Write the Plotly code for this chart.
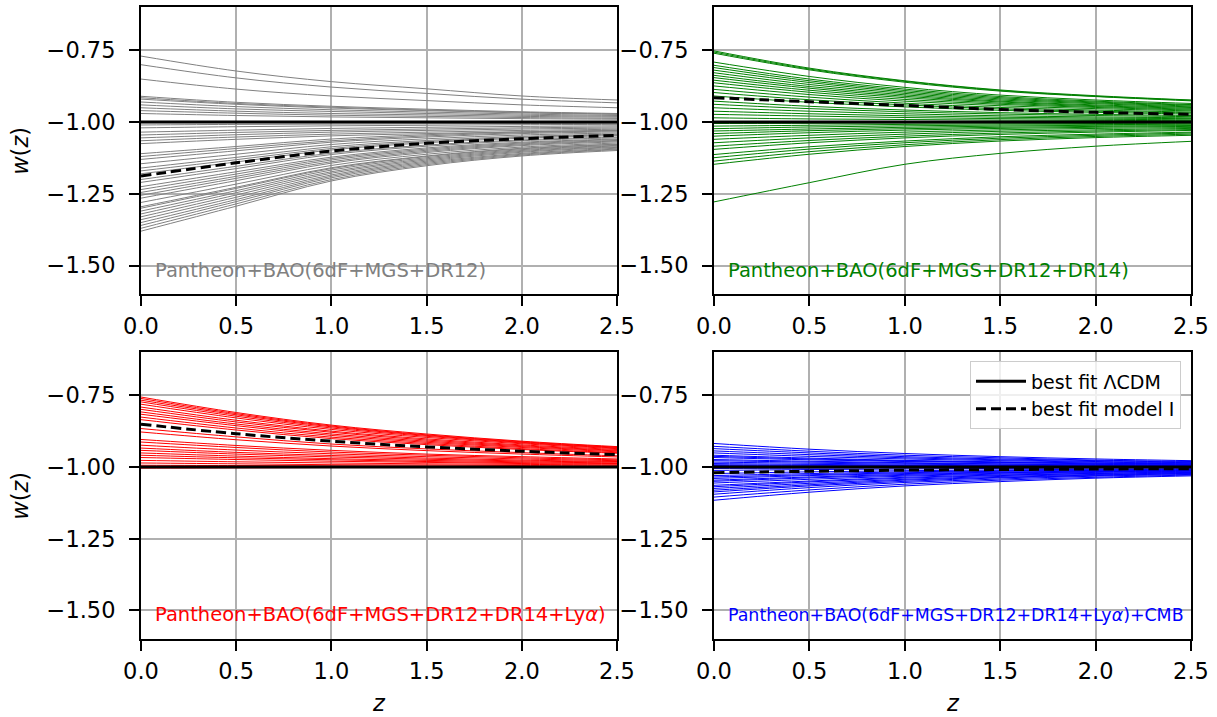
import plotly.graph_objects as go

# ---------------- data ----------------
Z = [0.0, 0.5, 1.0, 1.5, 2.0, 2.5]

LCDM_W = [-1.0, -1.0, -1.0, -1.0, -1.0, -1.0]

# Panel 1: Pantheon+BAO(6dF+MGS+DR12)  (grey)
GREY_CURVES = [
    [-0.770, -0.822, -0.859, -0.884, -0.909, -0.923],
    [-0.800, -0.846, -0.878, -0.900, -0.920, -0.933],
    [-0.850, -0.885, -0.909, -0.925, -0.940, -0.950],
    [-0.910, -0.931, -0.945, -0.955, -0.964, -0.970],
    [-0.915, -0.935, -0.948, -0.958, -0.966, -0.972],
    [-0.920, -0.938, -0.951, -0.960, -0.968, -0.973],
    [-0.930, -0.946, -0.957, -0.965, -0.972, -0.977],
    [-0.940, -0.954, -0.963, -0.970, -0.976, -0.980],
    [-0.950, -0.962, -0.970, -0.975, -0.980, -0.983],
    [-0.960, -0.969, -0.976, -0.980, -0.984, -0.987],
    [-0.970, -0.977, -0.982, -0.985, -0.988, -0.990],
    [-1.010, -1.008, -1.007, -1.006, -1.005, -1.004],
    [-1.020, -1.016, -1.013, -1.011, -1.009, -1.008],
    [-1.035, -1.028, -1.022, -1.018, -1.015, -1.013],
    [-1.045, -1.036, -1.029, -1.024, -1.020, -1.017],
    [-1.055, -1.044, -1.035, -1.029, -1.024, -1.021],
    [-1.065, -1.052, -1.042, -1.035, -1.029, -1.025],
    [-1.075, -1.060, -1.048, -1.040, -1.034, -1.029],
    [-1.110, -1.085, -1.059, -1.044, -1.034, -1.029],
    [-1.120, -1.092, -1.065, -1.048, -1.037, -1.031],
    [-1.130, -1.100, -1.070, -1.052, -1.040, -1.034],
    [-1.145, -1.112, -1.078, -1.058, -1.045, -1.038],
    [-1.160, -1.123, -1.086, -1.064, -1.050, -1.042],
    [-1.170, -1.131, -1.092, -1.068, -1.053, -1.044],
    [-1.180, -1.139, -1.097, -1.072, -1.056, -1.047],
    [-1.200, -1.154, -1.108, -1.080, -1.062, -1.052],
    [-1.210, -1.162, -1.113, -1.084, -1.065, -1.055],
    [-1.225, -1.173, -1.122, -1.090, -1.070, -1.059],
    [-1.235, -1.181, -1.127, -1.094, -1.073, -1.061],
    [-1.245, -1.189, -1.132, -1.098, -1.076, -1.064],
    [-1.255, -1.196, -1.138, -1.102, -1.079, -1.066],
    [-1.265, -1.204, -1.143, -1.106, -1.082, -1.069],
    [-1.280, -1.216, -1.151, -1.112, -1.087, -1.073],
    [-1.295, -1.227, -1.159, -1.118, -1.091, -1.077],
    [-1.300, -1.231, -1.162, -1.120, -1.093, -1.078],
    [-1.310, -1.239, -1.167, -1.124, -1.096, -1.081],
    [-1.320, -1.246, -1.173, -1.128, -1.099, -1.083],
    [-1.330, -1.254, -1.178, -1.132, -1.102, -1.086],
    [-1.340, -1.262, -1.184, -1.136, -1.105, -1.088],
    [-1.350, -1.270, -1.189, -1.140, -1.109, -1.091],
    [-1.360, -1.277, -1.194, -1.144, -1.112, -1.094],
    [-1.370, -1.285, -1.200, -1.148, -1.115, -1.096],
    [-1.380, -1.293, -1.205, -1.152, -1.118, -1.099],
]
GREY_BEST = [-1.188, -1.142, -1.101, -1.074, -1.058, -1.046]

# Panel 2: Pantheon+BAO(6dF+MGS+DR12+DR14)  (green)
GREEN_CURVES = [
    [-0.752, -0.812, -0.856, -0.888, -0.908, -0.923],
    [-0.756, -0.815, -0.858, -0.890, -0.910, -0.924],
    [-0.760, -0.818, -0.861, -0.892, -0.911, -0.926],
    [-0.791, -0.841, -0.879, -0.906, -0.923, -0.935],
    [-0.802, -0.850, -0.885, -0.911, -0.927, -0.939],
    [-0.810, -0.856, -0.890, -0.915, -0.930, -0.941],
    [-0.819, -0.862, -0.895, -0.919, -0.933, -0.944],
    [-0.828, -0.869, -0.900, -0.923, -0.936, -0.947],
    [-0.837, -0.876, -0.905, -0.927, -0.940, -0.949],
    [-0.845, -0.882, -0.910, -0.930, -0.943, -0.952],
    [-0.854, -0.889, -0.915, -0.934, -0.946, -0.955],
    [-0.863, -0.896, -0.921, -0.938, -0.949, -0.958],
    [-0.874, -0.904, -0.927, -0.943, -0.953, -0.961],
    [-0.886, -0.913, -0.934, -0.949, -0.958, -0.965],
    [-0.897, -0.922, -0.940, -0.954, -0.962, -0.968],
    [-0.909, -0.931, -0.947, -0.959, -0.966, -0.972],
    [-0.927, -0.945, -0.958, -0.967, -0.973, -0.977],
    [-0.938, -0.953, -0.964, -0.972, -0.977, -0.981],
    [-0.950, -0.962, -0.971, -0.978, -0.982, -0.985],
    [-0.962, -0.971, -0.978, -0.983, -0.986, -0.988],
    [-0.973, -0.979, -0.984, -0.988, -0.990, -0.992],
    [-0.985, -0.989, -0.991, -0.993, -0.994, -0.995],
    [-1.005, -1.004, -1.003, -1.002, -1.002, -1.002],
    [-1.014, -1.011, -1.008, -1.006, -1.005, -1.004],
    [-1.023, -1.017, -1.013, -1.010, -1.009, -1.007],
    [-1.031, -1.024, -1.018, -1.014, -1.011, -1.010],
    [-1.040, -1.030, -1.023, -1.018, -1.015, -1.012],
    [-1.049, -1.037, -1.028, -1.022, -1.018, -1.015],
    [-1.060, -1.046, -1.035, -1.027, -1.022, -1.019],
    [-1.072, -1.055, -1.042, -1.032, -1.027, -1.022],
    [-1.084, -1.064, -1.049, -1.038, -1.031, -1.026],
    [-1.095, -1.072, -1.055, -1.043, -1.035, -1.029],
    [-1.113, -1.086, -1.066, -1.051, -1.042, -1.035],
    [-1.124, -1.094, -1.072, -1.056, -1.046, -1.038],
    [-1.136, -1.103, -1.079, -1.061, -1.050, -1.042],
    [-1.147, -1.112, -1.085, -1.066, -1.054, -1.046],
    [-1.278, -1.211, -1.147, -1.109, -1.084, -1.067],
]
GREEN_BEST = [-0.915, -0.929, -0.942, -0.956, -0.966, -0.973]

# Panel 3: Pantheon+BAO(6dF+MGS+DR12+DR14+Lya)  (red)
RED_CURVES = [
    [-0.756, -0.810, -0.854, -0.885, -0.910, -0.929],
    [-0.761, -0.814, -0.857, -0.888, -0.912, -0.931],
    [-0.767, -0.818, -0.860, -0.890, -0.914, -0.932],
    [-0.773, -0.823, -0.864, -0.893, -0.916, -0.934],
    [-0.781, -0.829, -0.869, -0.897, -0.919, -0.936],
    [-0.791, -0.837, -0.875, -0.902, -0.923, -0.939],
    [-0.799, -0.843, -0.879, -0.906, -0.926, -0.942],
    [-0.808, -0.850, -0.885, -0.910, -0.929, -0.944],
    [-0.816, -0.856, -0.890, -0.914, -0.932, -0.947],
    [-0.826, -0.864, -0.896, -0.918, -0.936, -0.950],
    [-0.835, -0.871, -0.901, -0.922, -0.939, -0.952],
    [-0.866, -0.895, -0.920, -0.937, -0.950, -0.961],
    [-0.878, -0.905, -0.927, -0.943, -0.955, -0.965],
    [-0.904, -0.925, -0.942, -0.955, -0.964, -0.972],
    [-0.913, -0.932, -0.948, -0.959, -0.968, -0.975],
    [-0.924, -0.941, -0.954, -0.964, -0.972, -0.978],
    [-0.934, -0.949, -0.960, -0.969, -0.976, -0.981],
    [-0.942, -0.955, -0.965, -0.973, -0.979, -0.983],
    [-0.951, -0.962, -0.971, -0.977, -0.982, -0.986],
    [-0.959, -0.968, -0.975, -0.981, -0.985, -0.988],
    [-0.967, -0.974, -0.980, -0.984, -0.988, -0.990],
    [-0.977, -0.982, -0.986, -0.989, -0.991, -0.993],
    [-0.986, -0.989, -0.992, -0.993, -0.995, -0.996],
    [-0.994, -0.995, -0.996, -0.997, -0.998, -0.998],
    [-1.004, -1.003, -1.002, -1.002, -1.001, -1.001],
]
RED_BEST = [-0.851, -0.884, -0.910, -0.930, -0.945, -0.957]

# Panel 4: Pantheon+BAO(6dF+MGS+DR12+DR14+Lya)+CMB  (blue)
BLUE_CURVES = [
    [-0.918, -0.938, -0.953, -0.964, -0.972, -0.978],
    [-0.928, -0.945, -0.959, -0.968, -0.976, -0.981],
    [-0.936, -0.951, -0.964, -0.972, -0.978, -0.983],
    [-0.944, -0.957, -0.968, -0.975, -0.981, -0.985],
    [-0.951, -0.963, -0.972, -0.978, -0.983, -0.987],
    [-0.959, -0.969, -0.977, -0.982, -0.986, -0.989],
    [-0.963, -0.972, -0.979, -0.984, -0.987, -0.990],
    [-0.967, -0.975, -0.981, -0.985, -0.989, -0.991],
    [-0.974, -0.980, -0.985, -0.989, -0.991, -0.993],
    [-0.978, -0.983, -0.987, -0.990, -0.993, -0.994],
    [-0.983, -0.987, -0.990, -0.993, -0.994, -0.995],
    [-0.988, -0.991, -0.993, -0.995, -0.996, -0.997],
    [-0.992, -0.994, -0.995, -0.996, -0.997, -0.998],
    [-0.995, -0.996, -0.997, -0.998, -0.998, -0.999],
    [-1.005, -1.004, -1.003, -1.002, -1.002, -1.001],
    [-1.012, -1.009, -1.007, -1.005, -1.004, -1.003],
    [-1.023, -1.017, -1.013, -1.010, -1.008, -1.006],
    [-1.030, -1.023, -1.017, -1.013, -1.010, -1.008],
    [-1.035, -1.027, -1.020, -1.015, -1.012, -1.009],
    [-1.040, -1.030, -1.023, -1.018, -1.014, -1.011],
    [-1.046, -1.035, -1.026, -1.020, -1.016, -1.012],
    [-1.050, -1.038, -1.029, -1.022, -1.017, -1.014],
    [-1.056, -1.043, -1.032, -1.025, -1.019, -1.015],
    [-1.064, -1.049, -1.036, -1.028, -1.022, -1.017],
    [-1.069, -1.052, -1.039, -1.030, -1.023, -1.019],
    [-1.075, -1.057, -1.043, -1.033, -1.026, -1.020],
    [-1.081, -1.062, -1.046, -1.036, -1.028, -1.022],
    [-1.087, -1.066, -1.050, -1.038, -1.030, -1.023],
    [-1.095, -1.072, -1.054, -1.042, -1.032, -1.026],
    [-1.105, -1.080, -1.060, -1.046, -1.036, -1.028],
    [-1.116, -1.088, -1.066, -1.051, -1.039, -1.031],
]
BLUE_BEST = [-1.020, -1.015, -1.011, -1.009, -1.007, -1.006]

PANEL_LABELS = [
    "Pantheon+BAO(6dF+MGS+DR12)",
    "Pantheon+BAO(6dF+MGS+DR12+DR14)",
    "Pantheon+BAO(6dF+MGS+DR12+DR14+Ly<i>α</i>)",
    "Pantheon+BAO(6dF+MGS+DR12+DR14+Ly<i>α</i>)+CMB",
]
X_TICKS = [0.0, 0.5, 1.0, 1.5, 2.0, 2.5]
Y_TICKS = [-1.5, -1.25, -1.0, -0.75]
LEGEND_NAMES = ["best fit ΛCDM", "best fit model I"]

# ---------------- styling / layout ----------------
W, H = 1217, 717
FONT = "DejaVu Sans"
panels = [
    dict(curves=GREY_CURVES, best=GREY_BEST, color="#808080", xa="x", ya="y", lab_size=19.5),
    dict(curves=GREEN_CURVES, best=GREEN_BEST, color="#008000", xa="x2", ya="y2", lab_size=19.5),
    dict(curves=RED_CURVES, best=RED_BEST, color="#ff0000", xa="x3", ya="y3", lab_size=19.5),
    dict(curves=BLUE_CURVES, best=BLUE_BEST, color="#0000ff", xa="x4", ya="y4", lab_size=17.4),
]

# pixel boxes of the four panels (left, right, top, bottom)
boxes = [(141, 617, 7.3, 294.3), (714, 1191, 7.3, 294.3),
         (141, 617, 352.3, 639), (714, 1191, 352.3, 639)]

fig = go.Figure()

for i, p in enumerate(panels):
    for c in p["curves"]:
        fig.add_trace(go.Scatter(x=Z, y=c, mode="lines", xaxis=p["xa"], yaxis=p["ya"],
                                 line=dict(color=p["color"], width=1, shape="spline"),
                                 showlegend=False, hoverinfo="skip"))
    fig.add_trace(go.Scatter(x=Z, y=LCDM_W, mode="lines", xaxis=p["xa"], yaxis=p["ya"],
                             line=dict(color="black", width=3),
                             name=LEGEND_NAMES[0], showlegend=(i == 3)))
    fig.add_trace(go.Scatter(x=Z, y=p["best"], mode="lines", xaxis=p["xa"], yaxis=p["ya"],
                             line=dict(color="black", width=3, dash="10px,5px", shape="spline"),
                             name=LEGEND_NAMES[1], showlegend=(i == 3)))

axis_common = dict(showline=True, linecolor="black", linewidth=2, mirror=True,
                   ticks="outside", ticklen=10, tickwidth=2, tickcolor="black",
                   showgrid=True, gridcolor="#b0b0b0", gridwidth=1.7, zeroline=False,
                   automargin=False,
                   tickfont=dict(family=FONT, size=22.5, color="black"))

layout = dict(width=W, height=H, margin=dict(l=0, r=0, t=0, b=0, autoexpand=False),
              paper_bgcolor="white", plot_bgcolor="white",
              font=dict(family=FONT, color="black"))

annotations = []
for i, (l, r, t, b) in enumerate(boxes):
    sfx = "" if i == 0 else str(i + 1)
    layout["xaxis" + sfx] = dict(axis_common, domain=[l / W, r / W], range=[0, 2.5],
                                 tickvals=X_TICKS, tickformat=".1f", ticklabelstandoff=1,
                                 anchor="y" + sfx)
    layout["yaxis" + sfx] = dict(axis_common, domain=[1 - b / H, 1 - t / H], range=[-1.6, -0.6],
                                 tickvals=Y_TICKS, tickformat=".2f", ticklabelstandoff=9,
                                 anchor="x" + sfx)
    annotations.append(dict(text=PANEL_LABELS[i], x=0.065, y=-1.516, xref="x" + sfx, yref="y" + sfx,
                            xanchor="left", yanchor="middle", showarrow=False,
                            font=dict(family=FONT, size=panels[i]["lab_size"], color=panels[i]["color"])))

# axis titles
for (t, b) in [(7.3, 294.3), (352.3, 639)]:
    annotations.append(dict(text="<i>w</i>(<i>z</i>)", x=20 / W, y=1 - (t + b) / 2 / H,
                            xref="paper", yref="paper", textangle=-90, showarrow=False,
                            xanchor="center", yanchor="middle",
                            font=dict(family=FONT, size=22.5, color="black")))
for (l, r) in [(141, 617), (714, 1191)]:
    annotations.append(dict(text="<i>z</i>", x=(l + r) / 2 / W, y=1 - 703 / H,
                            xref="paper", yref="paper", showarrow=False,
                            xanchor="center", yanchor="middle",
                            font=dict(family=FONT, size=22.5, color="black")))

layout["annotations"] = annotations
layout["legend"] = dict(x=1181 / W, y=1 - 361.3 / H, xanchor="right", yanchor="top",
                        bgcolor="rgba(255,255,255,0.8)", bordercolor="#cccccc", borderwidth=1,
                        font=dict(family=FONT, size=19, color="black"),
                        itemwidth=50, tracegroupgap=0)
fig.update_layout(**layout)

# the page body has a default 8px margin; remove it so the figure fills the window
fig.write_html("out.html",
               config={"displayModeBar": False},
               post_script="document.body.style.margin='0px';document.body.style.overflow='hidden';")
